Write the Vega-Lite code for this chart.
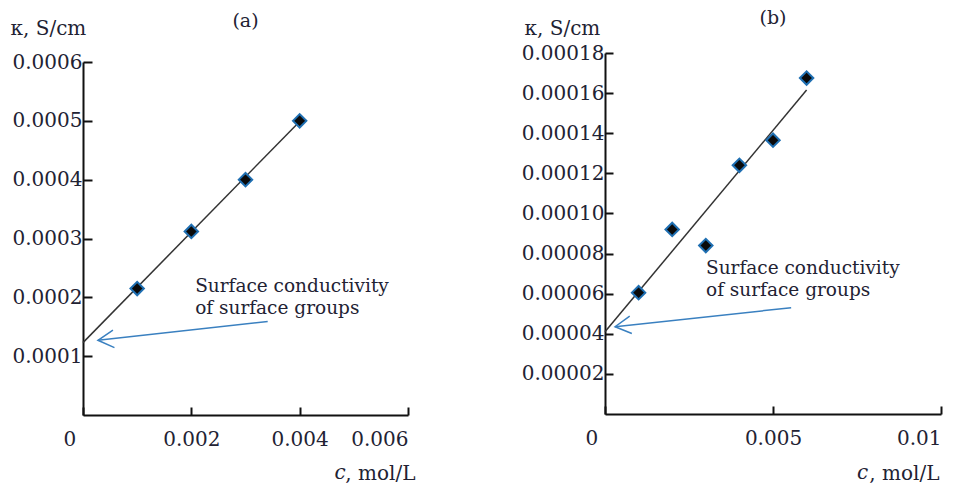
{
  "$schema": "https://vega.github.io/schema/vega-lite/v6.json",
  "background": "white",
  "padding": {"left": 10, "top": 9, "right": 5, "bottom": 5},
  "spacing": 106,
  "config": {
    "view": {"stroke": null},
    "font": "DejaVu Serif"
  },
  "datasets": {
    "pointsA": [
      {"c": 0.001, "kappa": 0.000215},
      {"c": 0.002, "kappa": 0.000312},
      {"c": 0.003, "kappa": 0.0004},
      {"c": 0.004, "kappa": 0.0005}
    ],
    "fitA": [
      {"c": 0, "kappa": 0.000123},
      {"c": 0.004, "kappa": 0.000499}
    ],
    "arrowA": [
      {"c": 0.00341, "kappa": 0.000159, "end": "tail"},
      {"c": 0.000276, "kappa": 0.000127, "end": "tip"}
    ],
    "noteA": [
      {"c": 0.00207, "kappa": 0.00022, "label": "Surface conductivity\nof surface groups"}
    ],
    "unitA": [
      {"c": 0.00485, "kappa": -0.0001088, "label": "c"}
    ],
    "pointsB": [
      {"c": 0.001, "kappa": 0.0000605},
      {"c": 0.002, "kappa": 0.000092},
      {"c": 0.003, "kappa": 0.000084},
      {"c": 0.004, "kappa": 0.000124},
      {"c": 0.005, "kappa": 0.0001365},
      {"c": 0.006, "kappa": 0.0001675}
    ],
    "fitB": [
      {"c": 0, "kappa": 0.000041},
      {"c": 0.006, "kappa": 0.0001615}
    ],
    "arrowB": [
      {"c": 0.00554, "kappa": 0.000053, "end": "tail"},
      {"c": 0.0003, "kappa": 0.0000435, "end": "tip"}
    ],
    "noteB": [
      {"c": 0.003006, "kappa": 0.000073, "label": "Surface conductivity\nof surface groups"}
    ],
    "unitB": [
      {"c": 0.00783, "kappa": -0.0000324, "label": "c"}
    ]
  },
  "hconcat": [
    {
      "width": 325,
      "height": 362,
      "title": {"text": "(a)", "offset": -13, "font": "DejaVu Serif", "fontSize": 19, "fontWeight": "normal", "color": "#222233"},
      "encoding": {
        "x": {
          "field": "c",
          "type": "quantitative",
          "scale": {"domain": [0, 0.006], "nice": false, "zero": false},
          "axis": {
            "values": [0, 0.002, 0.004, 0.006],
            "format": ".3~f",
            "grid": false,
            "domainColor": "#111111",
            "domainWidth": 2,
            "tickColor": "#111111",
            "tickWidth": 2,
            "tickSize": -8,
            "labelFont": "DejaVu Serif",
            "labelFontSize": 20,
            "labelColor": "#222233",
            "labelPadding": 22,
            "labelOffset": {"condition": {"test": "datum.value === 0", "value": -20}, "value": 0},
            "title": ", mol/L",
            "titleFont": "DejaVu Serif",
            "titleFontSize": 20,
            "titleFontWeight": "normal",
            "titleColor": "#222233",
            "titleX": 332,
            "titleY": 64,
            "titleAlign": "right",
            "titleBaseline": "alphabetic",
            "titleAnchor": null
          }
        },
        "y": {
          "field": "kappa",
          "type": "quantitative",
          "scale": {"domain": [0, 0.0006], "range": [362, 9], "nice": false, "zero": false},
          "axis": {
            "values": [0.0001, 0.0002, 0.0003, 0.0004, 0.0005, 0.0006],
            "format": ".4f",
            "grid": false,
            "domainColor": "#111111",
            "domainWidth": 2,
            "tickColor": "#111111",
            "tickWidth": 2,
            "tickSize": -9,
            "labelFont": "DejaVu Serif",
            "labelFontSize": 20,
            "labelColor": "#222233",
            "labelPadding": 10,
            "title": "κ, S/cm",
            "titleFont": "DejaVu Serif",
            "titleFontSize": 20,
            "titleFontWeight": "normal",
            "titleColor": "#222233",
            "titleAngle": 0,
            "titleX": -73,
            "titleY": -25,
            "titleAlign": "left",
            "titleBaseline": "middle",
            "titleAnchor": null
          }
        }
      },
      "layer": [
        {
          "data": {"name": "fitA"},
          "mark": {"type": "line", "color": "#333333", "strokeWidth": 1.5}
        },
        {
          "data": {"name": "arrowA"},
          "mark": {"type": "line", "color": "#3a80c0", "strokeWidth": 1.5}
        },
        {
          "data": {"name": "arrowA"},
          "transform": [{"filter": "datum.end === 'tip'"}],
          "mark": {"type": "point", "shape": "M1,-0.55L0,0L1,0.55", "size": 1000, "angle": -5, "filled": false, "stroke": "#3a80c0", "strokeWidth": 1.5, "opacity": 1}
        },
        {
          "data": {"name": "pointsA"},
          "mark": {"type": "point", "shape": "diamond", "size": 180, "filled": true, "fill": "#0a0a0a", "stroke": "#1f6fb2", "strokeWidth": 2, "opacity": 1}
        },
        {
          "data": {"name": "noteA"},
          "mark": {"type": "text", "align": "left", "baseline": "middle", "font": "DejaVu Serif", "fontSize": 18.5, "lineHeight": 22, "lineBreak": "\n", "color": "#222233"},
          "encoding": {"text": {"field": "label"}}
        },
        {
          "data": {"name": "unitA"},
          "mark": {"type": "text", "align": "right", "baseline": "alphabetic", "font": "DejaVu Serif", "fontSize": 20, "fontStyle": "italic", "color": "#222233"},
          "encoding": {"text": {"field": "label"}}
        }
      ]
    },
    {
      "width": 336,
      "height": 361,
      "title": {"text": "(b)", "offset": -10, "font": "DejaVu Serif", "fontSize": 19, "fontWeight": "normal", "color": "#222233"},
      "encoding": {
        "x": {
          "field": "c",
          "type": "quantitative",
          "scale": {"domain": [0, 0.01], "nice": false, "zero": false},
          "axis": {
            "values": [0, 0.005, 0.01],
            "format": ".3~f",
            "grid": false,
            "domainColor": "#111111",
            "domainWidth": 2,
            "tickColor": "#111111",
            "tickWidth": 2,
            "tickSize": -8,
            "labelFont": "DejaVu Serif",
            "labelFontSize": 20,
            "labelColor": "#222233",
            "labelPadding": 22,
            "labelOffset": {"condition": {"test": "datum.value === 0", "value": -20}, "value": 0},
            "title": ", mol/L",
            "titleFont": "DejaVu Serif",
            "titleFontSize": 20,
            "titleFontWeight": "normal",
            "titleColor": "#222233",
            "titleX": 334,
            "titleY": 65,
            "titleAlign": "right",
            "titleBaseline": "alphabetic",
            "titleAnchor": null
          }
        },
        "y": {
          "field": "kappa",
          "type": "quantitative",
          "scale": {"domain": [0, 0.00018], "nice": false, "zero": false},
          "axis": {
            "values": [0.00002, 0.00004, 0.00006, 0.00008, 0.0001, 0.00012, 0.00014, 0.00016, 0.00018],
            "format": ".5f",
            "grid": false,
            "domainColor": "#111111",
            "domainWidth": 2,
            "tickColor": "#111111",
            "tickWidth": 2,
            "tickSize": -8,
            "labelFont": "DejaVu Serif",
            "labelFontSize": 20,
            "labelColor": "#222233",
            "labelPadding": 9,
            "title": "κ, S/cm",
            "titleFont": "DejaVu Serif",
            "titleFontSize": 20,
            "titleFontWeight": "normal",
            "titleColor": "#222233",
            "titleAngle": 0,
            "titleX": -81,
            "titleY": -25,
            "titleAlign": "left",
            "titleBaseline": "middle",
            "titleAnchor": null
          }
        }
      },
      "layer": [
        {
          "data": {"name": "fitB"},
          "mark": {"type": "line", "color": "#333333", "strokeWidth": 1.5}
        },
        {
          "data": {"name": "arrowB"},
          "mark": {"type": "line", "color": "#3a80c0", "strokeWidth": 1.5}
        },
        {
          "data": {"name": "arrowB"},
          "transform": [{"filter": "datum.end === 'tip'"}],
          "mark": {"type": "point", "shape": "M1,-0.55L0,0L1,0.55", "size": 1000, "angle": -7, "filled": false, "stroke": "#3a80c0", "strokeWidth": 1.5, "opacity": 1}
        },
        {
          "data": {"name": "pointsB"},
          "mark": {"type": "point", "shape": "diamond", "size": 180, "filled": true, "fill": "#0a0a0a", "stroke": "#1f6fb2", "strokeWidth": 2, "opacity": 1}
        },
        {
          "data": {"name": "noteB"},
          "mark": {"type": "text", "align": "left", "baseline": "middle", "font": "DejaVu Serif", "fontSize": 18.5, "lineHeight": 22, "lineBreak": "\n", "color": "#222233"},
          "encoding": {"text": {"field": "label"}}
        },
        {
          "data": {"name": "unitB"},
          "mark": {"type": "text", "align": "right", "baseline": "alphabetic", "font": "DejaVu Serif", "fontSize": 20, "fontStyle": "italic", "color": "#222233"},
          "encoding": {"text": {"field": "label"}}
        }
      ]
    }
  ]
}
